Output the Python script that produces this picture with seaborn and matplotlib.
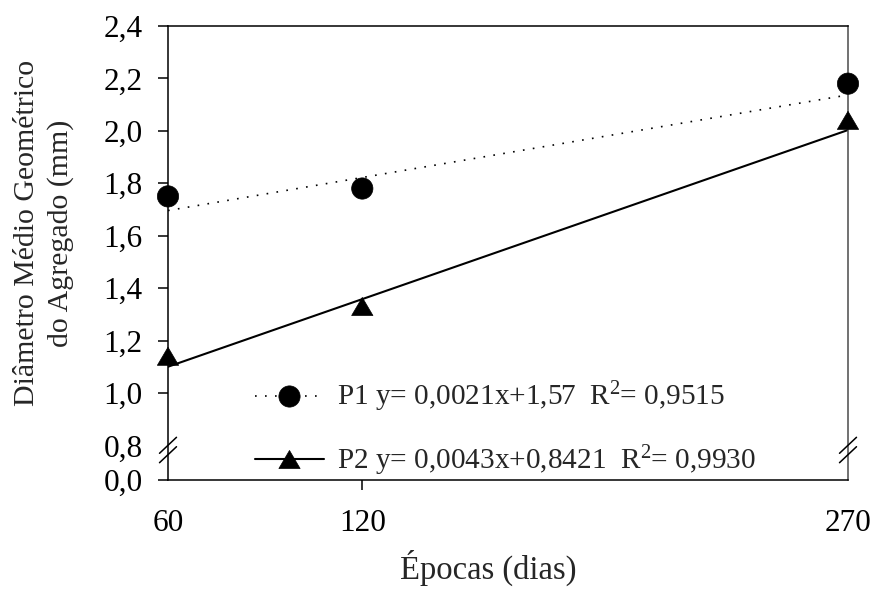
import numpy as np
import pandas as pd
import matplotlib
matplotlib.use("Agg")
import matplotlib.pyplot as plt
import seaborn as sns
from matplotlib.lines import Line2D
from matplotlib.path import Path

# Sampling times (days) and mean geometric diameter of aggregates (mm)
epocas = [60, 120, 270]
p1_dmg = [1.75, 1.78, 2.18]
p2_dmg = [1.14, 1.33, 2.04]

# Fitted linear models (slope, intercept)
p1_coef = (0.0021, 1.57)
p2_coef = (0.0043, 0.8421)
p1_label = "P1 y= 0,0021x+1,57  R$^{2}$= 0,9515"
p2_label = "P2 y= 0,0043x+0,8421  R$^{2}$= 0,9930"

# Y axis is broken between 0,0 and 0,8: the origin sits just below 0,8
y_floor = 0.668
y_ticks = [0.8, 1.0, 1.2, 1.4, 1.6, 1.8, 2.0, 2.2, 2.4]
y_tick_labels = ["0,8", "1,0", "1,2", "1,4", "1,6", "1,8", "2,0", "2,2", "2,4"]
x_tick_labels = ["60", "120", "270"]

sns.set_style("ticks")
plt.rcParams["font.family"] = ["Liberation Serif", "DejaVu Serif"]
plt.rcParams["mathtext.fontset"] = "custom"
plt.rcParams["mathtext.rm"] = "Liberation Serif"
plt.rcParams["mathtext.it"] = "Liberation Serif:italic"

FS_TICK = 22.5
FS_XLAB = 23.5
FS_YLAB = 21.5
FS_LEG = 21.1
DOTTED = (0, (1, 5))
tri = Path([(0, 0.85), (-1, -0.85), (1, -0.85), (0, 0.85)],
           [Path.MOVETO, Path.LINETO, Path.LINETO, Path.CLOSEPOLY])

fig = plt.figure(figsize=(8.73, 6.01), dpi=100)
ax = fig.add_axes([168 / 873, 121 / 601, 680 / 873, 454 / 601])

df = pd.DataFrame({
    "epoca": epocas * 2,
    "dmg": p1_dmg + p2_dmg,
    "trat": ["P1"] * len(epocas) + ["P2"] * len(epocas),
})

# Regression lines
xfit = np.array([epocas[0], epocas[-1]], dtype=float)
sns.lineplot(x=xfit, y=p1_coef[0] * xfit + p1_coef[1], ax=ax, color="black",
             lw=1.2, linestyle=DOTTED, zorder=2)
sns.lineplot(x=xfit, y=p2_coef[0] * xfit + p2_coef[1], ax=ax, color="black",
             lw=1.5, zorder=2)

# Observed means
sns.scatterplot(data=df, x="epoca", y="dmg", style="trat",
                markers={"P1": "o", "P2": tri}, s=235, color="black",
                edgecolor="black", linewidth=0.5, legend=False, ax=ax,
                clip_on=False, zorder=3)

ax.set_xlim(epocas[0], epocas[-1])
ax.set_ylim(y_floor, y_ticks[-1])
ax.set_xticks(epocas)
ax.set_xticklabels(x_tick_labels)
ax.set_yticks([y_floor] + y_ticks)
ax.set_yticklabels(["0,0"] + y_tick_labels)

ax.tick_params(axis="both", direction="out", length=7.2, width=1.1,
               labelsize=FS_TICK, colors="black")
ax.tick_params(axis="y", pad=11)
ax.tick_params(axis="x", pad=13.5)
xt = ax.xaxis.get_major_ticks()
xt[0].tick1line.set_visible(False)
xt[-1].tick1line.set_visible(False)
ax.yaxis.get_major_ticks()[1].tick1line.set_visible(False)

for side, sp in ax.spines.items():
    sp.set_visible(True)
    sp.set_linewidth(1.1)
    sp.set_color("black")
ax.spines["right"].set_color("#4a4a4a")

ax.set_xlabel("Épocas (dias)", fontsize=FS_XLAB)
ax.xaxis.label.set_va("center")
ax.xaxis.set_label_coords((488 - 168) / 680, (480 - 568) / 454)
ax.set_ylabel("Diâmetro Médio Geométrico\ndo Agregado (mm)", fontsize=FS_YLAB,
              linespacing=1.3)
ax.yaxis.label.set_va("center")
ax.yaxis.set_label_coords((44 - 168) / 680, (480 - 233) / 454)

# Axis-break marks on both vertical spines
ybrk = (480 - 450) / 454
hx, hy, sep = 8.5 / 680, 8.0 / 454, 4.7 / 454
for x0 in (0.0, 1.0):
    for off in (sep, -sep):
        ax.plot([x0 - hx, x0 + hx], [ybrk + off - hy, ybrk + off + hy],
                transform=ax.transAxes, color="black", lw=1.1,
                clip_on=False, zorder=4)

handles = [
    Line2D([], [], color="black", lw=1.2, linestyle=DOTTED, marker="o",
           markersize=15.3, markeredgewidth=0.5),
    Line2D([], [], color="black", lw=1.5, marker=tri, markersize=15.3,
           markeredgewidth=0.5),
]
ax.legend(handles, [p1_label, p2_label], loc="upper left",
          bbox_to_anchor=((255 - 168) / 680, (480 - 380) / 454),
          frameon=False, fontsize=FS_LEG, handlelength=2.35, handletextpad=0.45,
          labelspacing=0.98, borderpad=0, borderaxespad=0)

fig.savefig("out.png", dpi=100)
